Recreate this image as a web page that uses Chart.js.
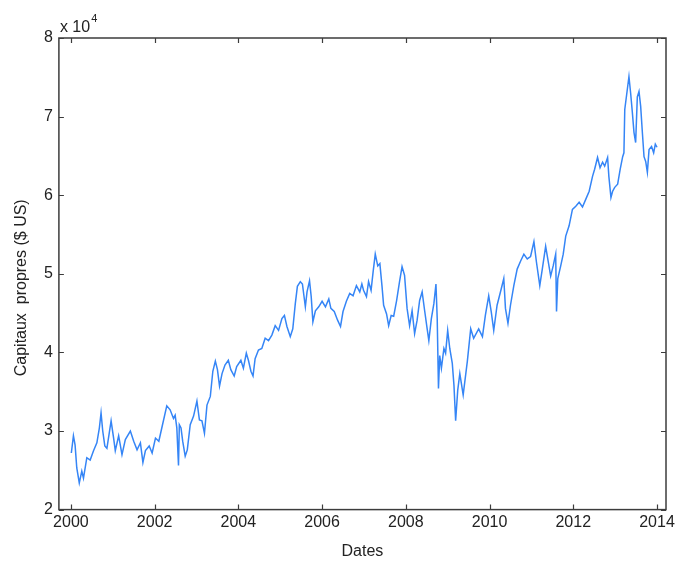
<!DOCTYPE html>
<html>
<head>
<meta charset="utf-8">
<script src="https://cdn.jsdelivr.net/npm/chart.js@4/dist/chart.umd.min.js"></script>
<style>
  html, body { margin: 0; padding: 0; background: #ffffff; }
  #wrap { width: 680px; height: 564px; }
</style>
</head>
<body>
<div id="wrap"><canvas id="c" width="680" height="564"></canvas></div>
<script>
// Dates (decimal years) and equity (US $)
const dates = [
  2000.01, 2000.06, 2000.10, 2000.14, 2000.20, 2000.26, 2000.30, 2000.38, 2000.46, 2000.54,
  2000.62, 2000.68, 2000.72, 2000.76, 2000.81, 2000.86, 2000.96, 2001.02, 2001.06, 2001.14,
  2001.22, 2001.30, 2001.42, 2001.50, 2001.58, 2001.66, 2001.72, 2001.78, 2001.87, 2001.94,
  2002.02, 2002.10, 2002.18, 2002.29, 2002.37, 2002.45, 2002.49, 2002.53, 2002.57, 2002.59,
  2002.63, 2002.67, 2002.73, 2002.78, 2002.85, 2002.93, 2003.01, 2003.07, 2003.13, 2003.19,
  2003.25, 2003.33, 2003.39, 2003.45, 2003.50, 2003.55, 2003.61, 2003.68, 2003.76, 2003.82,
  2003.90, 2003.96, 2004.06, 2004.12, 2004.19, 2004.24, 2004.30, 2004.35, 2004.40, 2004.48,
  2004.56, 2004.64, 2004.72, 2004.80, 2004.88, 2004.96, 2005.04, 2005.10, 2005.16, 2005.24,
  2005.30, 2005.36, 2005.41, 2005.48, 2005.53, 2005.60, 2005.64, 2005.70, 2005.74, 2005.78,
  2005.84, 2005.92, 2006.00, 2006.08, 2006.16, 2006.21, 2006.29, 2006.37, 2006.44, 2006.50,
  2006.58, 2006.66, 2006.74, 2006.82, 2006.90, 2006.95, 2006.99, 2007.06, 2007.11, 2007.17,
  2007.22, 2007.27, 2007.33, 2007.38, 2007.43, 2007.47, 2007.54, 2007.59, 2007.65, 2007.71,
  2007.78, 2007.85, 2007.91, 2007.97, 2008.03, 2008.09, 2008.15, 2008.21, 2008.27, 2008.33,
  2008.39, 2008.45, 2008.51, 2008.55, 2008.61, 2008.67, 2008.72, 2008.75, 2008.78, 2008.81,
  2008.85, 2008.91, 2008.95, 2009.00, 2009.05, 2009.11, 2009.15, 2009.19, 2009.24, 2009.29,
  2009.37, 2009.47, 2009.55, 2009.62, 2009.74, 2009.83, 2009.90, 2009.98, 2010.04, 2010.10,
  2010.18, 2010.28, 2010.34, 2010.38, 2010.44, 2010.50, 2010.58, 2010.66, 2010.74, 2010.82,
  2010.90, 2010.98, 2011.06, 2011.12, 2011.20, 2011.26, 2011.34, 2011.40, 2011.46, 2011.52,
  2011.58, 2011.60, 2011.63, 2011.70, 2011.76, 2011.82, 2011.90, 2011.98, 2012.06, 2012.14,
  2012.22, 2012.30, 2012.38, 2012.46, 2012.51, 2012.58, 2012.64, 2012.70, 2012.75, 2012.82,
  2012.85, 2012.90, 2012.94, 2012.99, 2013.06, 2013.12, 2013.18, 2013.21, 2013.23, 2013.28,
  2013.33, 2013.37, 2013.41, 2013.45, 2013.49, 2013.53, 2013.57, 2013.61, 2013.65, 2013.69,
  2013.73, 2013.77, 2013.81, 2013.87, 2013.92, 2013.96, 2014.00
];
const equity = [
  27200, 29400, 28200, 25300, 23400, 24900, 24000, 26600, 26300, 27500,
  28500, 30400, 32300, 30000, 28100, 27800, 31300, 29100, 27500, 29400,
  27000, 28900, 30000, 28700, 27600, 28500, 26000, 27500, 28100, 27200,
  29100, 28700, 30600, 33200, 32700, 31600, 32000, 30400, 25600, 30800,
  30400, 28700, 26800, 27600, 30800, 31900, 33800, 31400, 31300, 29700,
  33300, 34400, 37600, 38900, 37800, 35700, 37300, 38400, 39000, 37800,
  37000, 38200, 39000, 38000, 39900, 39000, 37600, 37000, 39200, 40300,
  40500, 41800, 41500, 42200, 43400, 42800, 44300, 44700, 43300, 42000,
  43000, 46200, 48400, 49000, 48700, 45800, 47700, 49100, 47100, 43900,
  45300, 45800, 46500, 45800, 46800, 45600, 45200, 44100, 43300, 45200,
  46500, 47500, 47200, 48500, 47700, 48700, 47900, 47100, 49000, 47900,
  50300, 52500, 51000, 51300, 48500, 46000, 44900, 43400, 44700, 44600,
  46600, 49000, 50900, 49800, 45600, 43400, 45300, 42400, 44100, 46600,
  47700, 45300, 43000, 41500, 44300, 46200, 48700, 44300, 35400, 39600,
  38000, 40500, 39900, 42800, 40500, 38600, 35800, 31300, 35200, 37300,
  34600, 38900, 43000, 41800, 43000, 42000, 44700, 47200, 45200, 42800,
  46000, 48100, 49400, 45600, 43700, 46000, 48500, 50600, 51600, 52500,
  51900, 52200, 54100, 51500, 48500, 50600, 53500, 51600, 49700, 51000,
  52500, 45200, 49400, 51000, 52500, 54800, 56100, 58200, 58600, 59100,
  58500, 59500, 60500, 62400, 63300, 64800, 63500, 64200, 63700, 64800,
  62400, 59700, 60500, 61000, 61400, 63300, 64900, 65400, 70900, 73000,
  75100, 73000, 70600, 68000, 66700, 72500, 73200, 71300, 68000, 64900,
  64300, 62900, 65800, 66200, 65400, 66500, 66100
];
const xTickYears = [2000, 2002, 2004, 2006, 2008, 2010, 2012, 2014];
const yTickValues = [20000, 30000, 40000, 50000, 60000, 70000, 80000];
const xTitle = 'Dates';
const yTitle = 'Capitaux  propres ($ US)';

const AXIS_COLOR = '#3c3c3c';
const FONT = "'Liberation Sans', Arial, Helvetica, sans-serif";

const matlabAxes = {
  id: 'matlabAxes',
  afterDatasetsDraw(chart) {
    const { ctx, chartArea: a, scales } = chart;
    const tl = 5;
    ctx.save();
    ctx.strokeStyle = AXIS_COLOR;
    ctx.lineWidth = 1.2;
    ctx.beginPath();
    xTickYears.forEach(v => {
      const px = Math.round(scales.x.getPixelForValue(v)) + 0.5;
      ctx.moveTo(px, a.bottom); ctx.lineTo(px, a.bottom - tl);
      ctx.moveTo(px, a.top); ctx.lineTo(px, a.top + tl);
    });
    yTickValues.forEach(v => {
      const py = Math.round(scales.y.getPixelForValue(v)) + 0.5;
      ctx.moveTo(a.left, py); ctx.lineTo(a.left + tl, py);
      ctx.moveTo(a.right, py); ctx.lineTo(a.right - tl, py);
    });
    ctx.stroke();
    ctx.lineWidth = 1.5;
    ctx.strokeRect(a.left, a.top, a.right - a.left, a.bottom - a.top);
    // exponent label
    ctx.fillStyle = '#222';
    ctx.textBaseline = 'alphabetic';
    ctx.textAlign = 'left';
    ctx.font = '16px ' + FONT;
    const base = 'x 10';
    ctx.fillText(base, a.left + 1, a.top - 6);
    const w = ctx.measureText(base).width;
    ctx.font = '11px ' + FONT;
    ctx.fillText('4', a.left + 1 + w + 1, a.top - 16);
    // y-axis title (placed like MATLAB's ylabel, slightly below axes centre)
    ctx.font = '16px ' + FONT;
    ctx.textAlign = 'center';
    ctx.textBaseline = 'middle';
    ctx.translate(22, (a.top + a.bottom) / 2 + 14);
    ctx.rotate(-Math.PI / 2);
    ctx.fillText(yTitle, 0, 0);
    ctx.restore();
  }
};

new Chart(document.getElementById('c'), {
  type: 'line',
  data: {
    datasets: [{
      data: dates.map((d, i) => ({ x: d, y: equity[i] })),
      borderColor: '#3585f6',
      borderWidth: 1.5,
      pointRadius: 0,
      tension: 0,
      fill: false
    }]
  },
  options: {
    responsive: false,
    animation: false,
    layout: { padding: { left: 38, right: 14, top: 38, bottom: 3 } },
    plugins: { legend: { display: false }, tooltip: { enabled: false } },
    scales: {
      x: {
        type: 'linear',
        min: 1999.713,
        max: 2014.215,
        afterBuildTicks(scale) { scale.ticks = xTickYears.map(v => ({ value: v })); },
        grid: { display: false, drawTicks: false },
        border: { display: false },
        ticks: {
          padding: 3,
          color: '#222',
          font: { family: FONT, size: 16 },
          maxRotation: 0,
          autoSkip: false,
          callback: v => String(v)
        },
        title: {
          display: true,
          text: xTitle,
          color: '#222',
          font: { family: FONT, size: 16 },
          padding: { top: 7, bottom: 0 }
        }
      },
      y: {
        type: 'linear',
        min: 20000,
        max: 80000,
        afterBuildTicks(scale) { scale.ticks = yTickValues.map(v => ({ value: v })); },
        grid: { display: false, drawTicks: false },
        border: { display: false },
        ticks: {
          padding: 6,
          color: '#222',
          font: { family: FONT, size: 16 },
          callback: v => String(v / 10000)
        },
        title: { display: false }
      }
    }
  },
  plugins: [matlabAxes]
});
</script>
</body>
</html>
